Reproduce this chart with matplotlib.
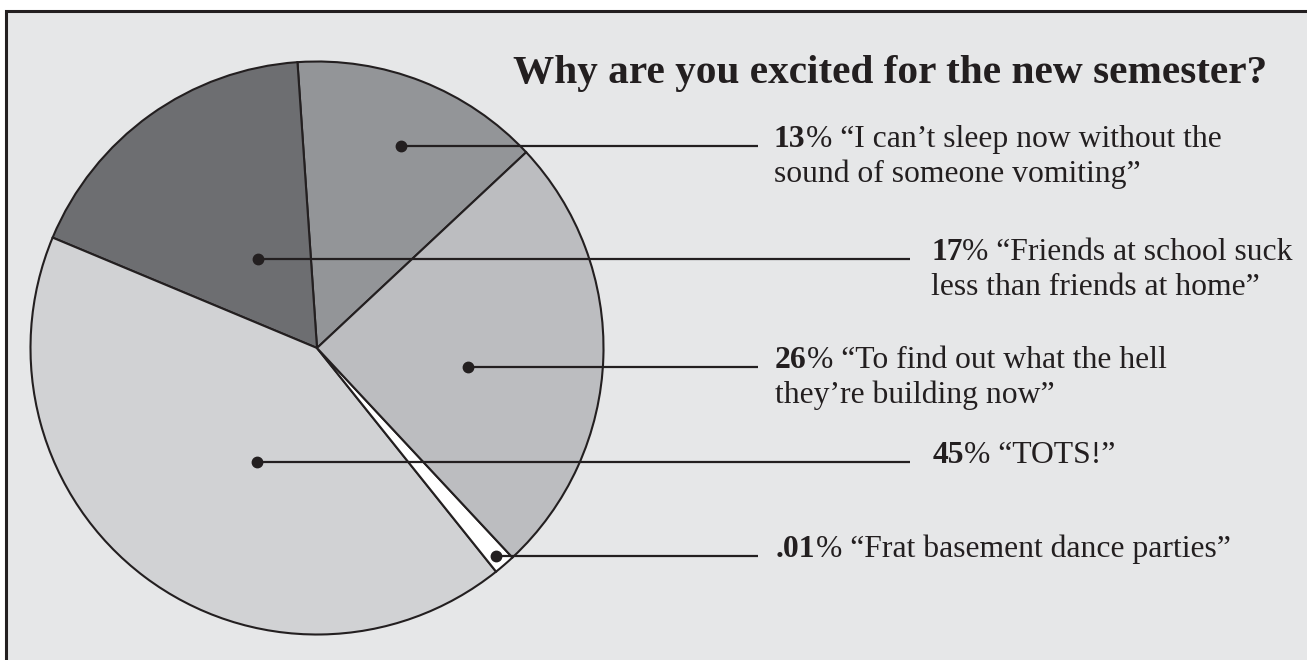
import matplotlib
matplotlib.use('Agg')
import matplotlib.pyplot as plt
from matplotlib.patches import Rectangle
import numpy as np

# ---------------- data ----------------
title = 'Why are you excited for the new semester?'
pct_labels = ['13', '17', '45', '.01', '26']
label_lines = [
    ['% “I can’t sleep now without the', 'sound of someone vomiting”'],
    ['% “Friends at school suck', 'less than friends at home”'],
    ['% “TOTS!”'],
    ['% “Frat basement dance parties”'],
    ['% “To find out what the hell', 'they’re building now”'],
]
# angular share of each wedge as drawn in the picture (percent of circle)
wedge_shares = [14.1, 17.6, 42.0, 1.2, 25.0]

# ---------------- style / layout ----------------
colors = ['#939598', '#6d6e71', '#d1d2d4', '#ffffff', '#bcbdc0']
ink = '#231f20'
bg = '#e6e7e8'
W, H = 1307, 660
center_px = (317, 348)
radius = 286.5
start_angle = 43.1
# dot anchor: fraction along wedge angle, fraction of radius
dot_ang_frac = [0.48, 0.47, 0.56, 0.48, 0.44]
dot_rad_frac = [0.763, 0.372, 0.449, 0.958, 0.53]
line_end_x = [758, 910, 910, 758, 758]
text_x = [774, 931, 933, 776, 775]
font = 'Liberation Serif'
body_size = 22.8
line_gap = 34.5

fig = plt.figure(figsize=(W / 100, H / 100), dpi=100, facecolor='white')
ax = fig.add_axes([0, 0, 1, 1])

cx, cy = center_px[0], H - center_px[1]

wedges, _ = ax.pie(wedge_shares, colors=colors, startangle=start_angle,
                   counterclock=True, center=(cx, cy), radius=radius,
                   wedgeprops=dict(edgecolor=ink, linewidth=1.5, zorder=2))

ax.set_xlim(0, W)
ax.set_ylim(0, H)
ax.set_aspect('equal')
ax.axis('off')

# frame
ax.add_patch(Rectangle((6, -30), W + 50, H - 11 + 30, facecolor=bg,
                       edgecolor=ink, linewidth=2.2, zorder=0))

fig.canvas.draw()
renderer = fig.canvas.get_renderer()

for i, w in enumerate(wedges):
    t1, t2 = w.theta1, w.theta2
    ang = np.deg2rad(t1 + (t2 - t1) * dot_ang_frac[i])
    rr = radius * dot_rad_frac[i]
    dx = cx + rr * np.cos(ang)
    dy = cy + rr * np.sin(ang)
    ax.plot([dx, line_end_x[i]], [dy, dy], color=ink, lw=1.6,
            solid_capstyle='butt', zorder=3)
    ax.plot(dx, dy, 'o', ms=7.5, color=ink, zorder=4)
    base = dy - 1
    tb = ax.text(text_x[i], base, pct_labels[i], fontsize=body_size,
                 fontweight='bold', family=font, color=ink, va='baseline',
                 ha='left', zorder=5)
    bb = tb.get_window_extent(renderer=renderer)
    ax.text(text_x[i] + bb.width, base, label_lines[i][0], fontsize=body_size,
            family=font, color=ink, va='baseline', ha='left', zorder=5)
    for k, ln in enumerate(label_lines[i][1:], start=1):
        ax.text(text_x[i], base - k * line_gap, ln, fontsize=body_size,
                family=font, color=ink, va='baseline', ha='left', zorder=5)

ax.text(890, H - 83, title, fontsize=29.7, fontweight='bold', family=font,
        color=ink, ha='center', va='baseline', zorder=5)

fig.savefig('out.png', dpi=100, facecolor='white')
